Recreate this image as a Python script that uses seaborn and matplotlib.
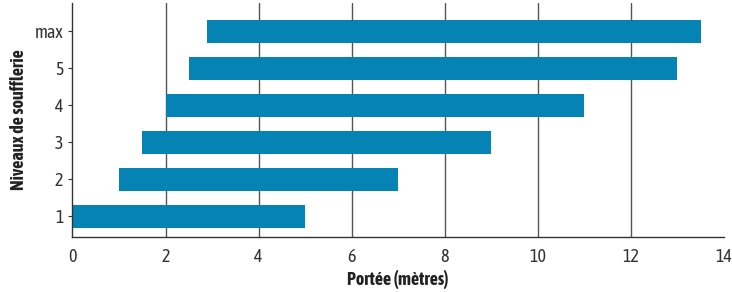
import matplotlib
matplotlib.use("Agg")
import matplotlib.pyplot as plt
from matplotlib import font_manager
import seaborn as sns
import pandas as pd

# niveaux de soufflerie et portée (mètres)
levels = ["max", "5", "4", "3", "2", "1"]
start = [2.9, 2.5, 2.0, 1.5, 1.0, 0.0]
end = [13.5, 13.0, 11.0, 9.0, 7.0, 5.0]
xticks = [0, 2, 4, 6, 8, 10, 12, 14]

sns.set_style("white")
fonts = font_manager.fontManager.ttflist
narrow = sorted({f.name for f in fonts if "Narrow" in f.name or "Condensed" in f.name})
bold_ok = [n for n in narrow
           if any(f.name == n and f.weight in (700, "bold") for f in fonts)]
family = (bold_ok or narrow)[:1] + ["DejaVu Sans"]
plt.rcParams["font.family"] = family

df = pd.DataFrame({"level": levels, "start": start, "end": end})
df["span"] = df["end"] - df["start"]

fig = plt.figure(figsize=(7.32, 2.92), dpi=100)
ax = fig.add_axes([0.099, 0.188, 0.89, 0.802])

for x in xticks[1:-1]:
    ax.axvline(x, color="#555555", lw=1, zorder=0)

sns.barplot(data=df, x="span", y="level", order=levels, orient="h",
            color="#0683b5", saturation=1, width=0.62, linewidth=0,
            ax=ax, zorder=2)
for patch, s in zip(ax.patches, df["start"]):
    patch.set_x(s)

ax.set_xlim(0, 14)
ax.set_ylim(5.57, -0.77)
ax.set_xticks(xticks)
ax.set_xlabel("Portée (mètres)", fontsize=13, fontweight="bold", color="#222222", labelpad=3)
ax.set_ylabel("Niveaux de soufflerie", fontsize=13, fontweight="bold", color="#222222", labelpad=5)
ax.tick_params(axis="x", length=0, labelsize=13, labelcolor="#333333", pad=8)
ax.tick_params(axis="y", length=3, width=0.8, color="#333333", labelsize=13,
               labelcolor="#333333", left=True)
sns.despine(ax=ax, top=True, right=True)
for sp in ["left", "bottom"]:
    ax.spines[sp].set_color("#333333")
    ax.spines[sp].set_linewidth(1)

fig.savefig("out.png", dpi=100)
